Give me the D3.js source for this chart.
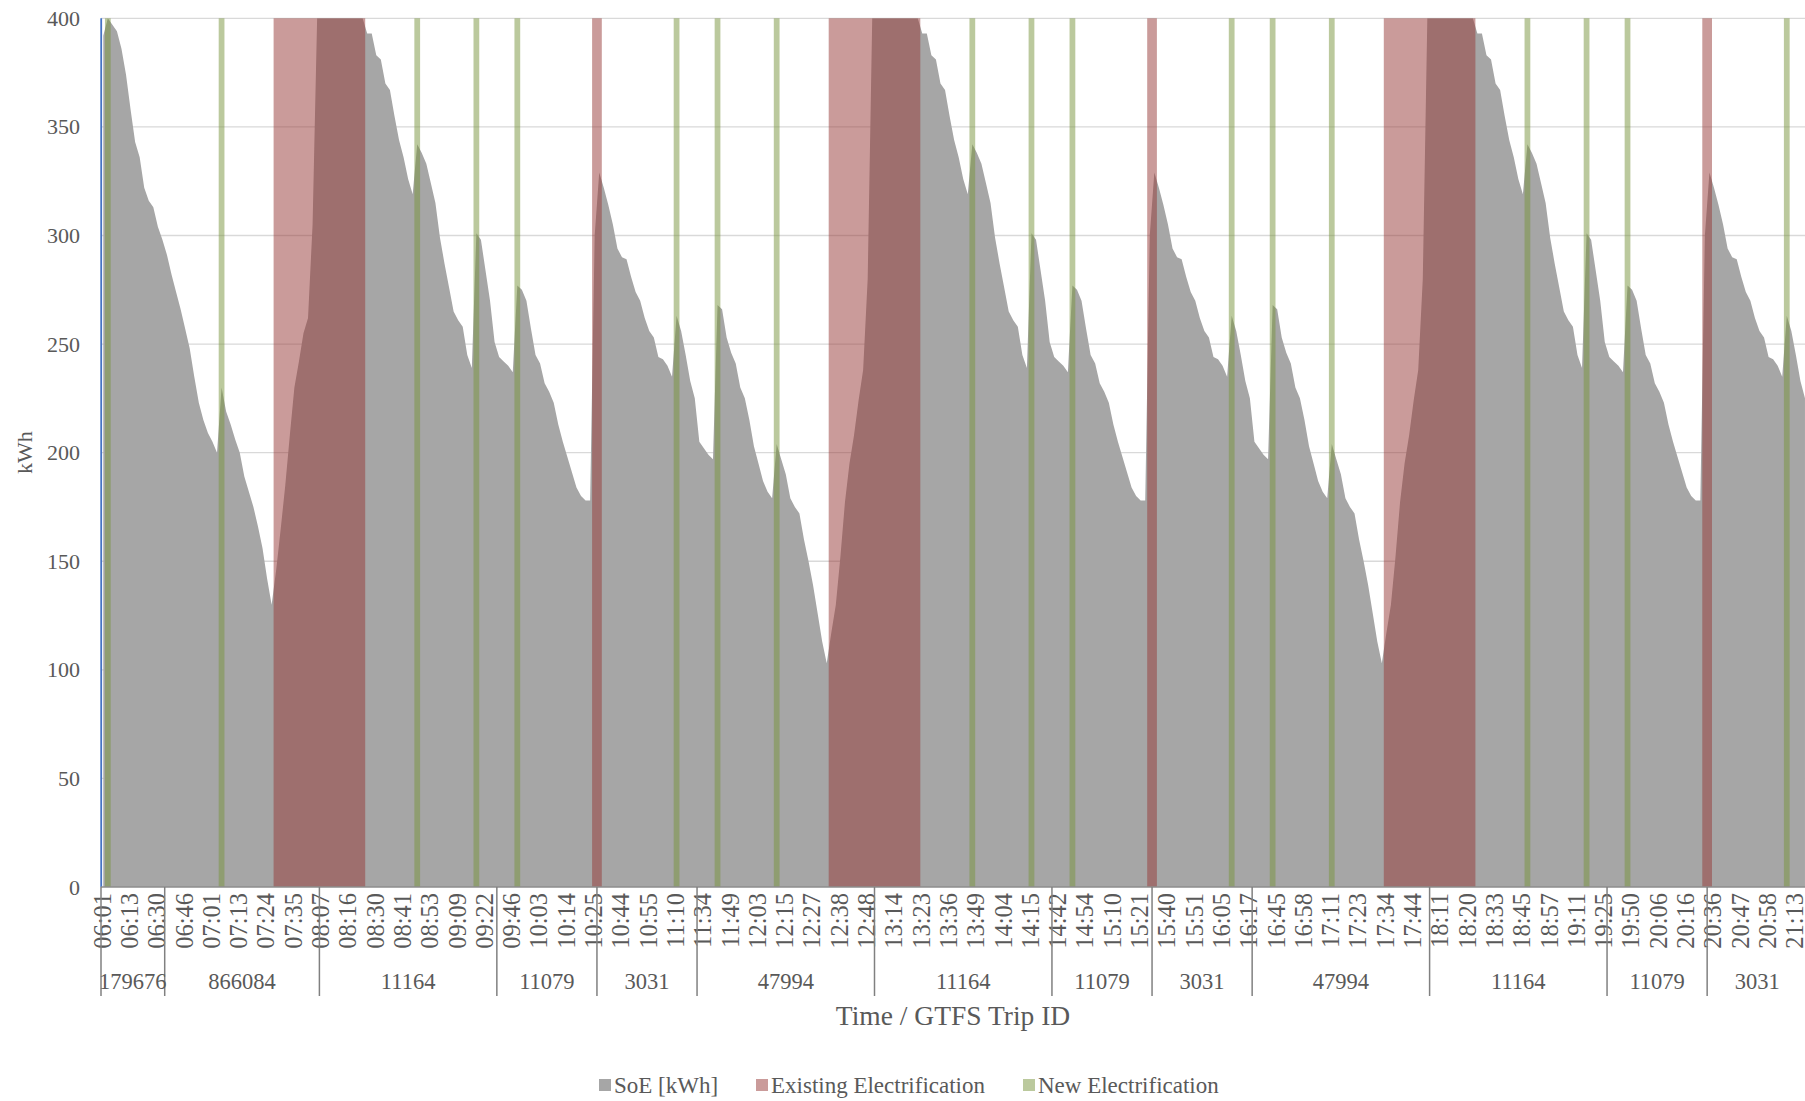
<!DOCTYPE html>
<html>
<head>
<meta charset="utf-8">
<script src="https://cdn.jsdelivr.net/npm/d3@7"></script>
<style>
  html, body { margin: 0; padding: 0; background: #ffffff; }
  svg text { font-family: "Liberation Serif", "DejaVu Serif", serif; fill: #595959; }
</style>
</head>
<body>
<svg id="chart" width="1805" height="1101"></svg>
<script>
// Trip order of the bus block (bottom tier of the category axis)
const tripSequence = ["179676", "866084", "11164", "11079", "3031", "47994",
                      "11164", "11079", "3031", "47994", "11164", "11079", "3031"];

// State of energy [kWh] per stop, one array per GTFS trip
const soe179676 = [392, 400, 397, 394, 386, 374, 358, 343, 336, 322, 316, 313, 304, 298];
const soe866084 = [291, 282, 274, 266, 257, 248, 235, 223, 215, 209, 205, 200, 230, 219, 213, 206, 200,
                   189, 182, 175, 166, 156, 142, 130, 146, 165, 185, 208, 230, 242, 255, 262, 305, 400];
const soe11164  = [400, 400, 400, 400, 400, 400, 400, 400, 400, 400, 393, 393, 383, 381, 370, 367, 355,
                   344, 336, 326, 319, 342, 338, 333, 324, 315, 299, 287, 276, 265, 261, 258, 245, 239,
                   301, 298, 284, 270, 251];
const soe11079  = [244, 242, 240, 237, 277, 275, 270, 257, 245, 241, 232, 228, 223, 213, 205, 198, 191,
                   184, 180, 178, 178, 300];
const soe3031   = [329, 322, 314, 305, 294, 290, 289, 281, 274, 270, 262, 256, 253, 244, 243, 240, 235,
                   263, 256, 245, 233, 225];
const soe47994  = [205, 202, 199, 197, 268, 266, 253, 246, 241, 230, 225, 215, 203, 195, 187, 182, 179,
                   204, 197, 190, 179, 175, 172, 160, 150, 139, 126, 113, 103, 117, 130, 152, 177, 195,
                   208, 224, 238, 280, 400];

// Stops served under an existing overhead line (inclusive index ranges along the block)
const existingElectrification = [[38, 57], [108, 109], [160, 179], [230, 231], [282, 301], [352, 353]];
// Stops with newly proposed charging infrastructure
const newElectrification = [1, 26, 69, 82, 91, 126, 135, 148, 191, 204, 213, 248, 257, 270, 313, 326, 335, 370];

// Departure times shown on the axis (every 6th stop)
const timeTicks = ["06:01","06:13","06:30","06:46","07:01","07:13","07:24","07:35","08:07","08:16",
  "08:30","08:41","08:53","09:09","09:22","09:46","10:03","10:14","10:25","10:44","10:55","11:10",
  "11:34","11:49","12:03","12:15","12:27","12:38","12:48","13:14","13:23","13:36","13:49","14:04",
  "14:15","14:42","14:54","15:10","15:21","15:40","15:51","16:05","16:17","16:45","16:58","17:11",
  "17:23","17:34","17:44","18:11","18:20","18:33","18:45","18:57","19:11","19:25","19:50","20:06",
  "20:16","20:36","20:47","20:58","21:13"];
const tickEvery = 6;
const yTicks = [0, 50, 100, 150, 200, 250, 300, 350, 400];

// ---- assemble the stop-level series ----
const soeByTrip = new Map([
  ["179676", soe179676], ["866084", soe866084], ["11164", soe11164],
  ["11079", soe11079], ["3031", soe3031], ["47994", soe47994]
]);
const soe = [];
const groups = [];
tripSequence.forEach(id => {
  const vals = soeByTrip.get(id);
  groups.push({ id, start: soe.length, end: soe.length + vals.length - 1 });
  vals.forEach(v => soe.push(v));
});
const N = soe.length;

// ---- layout ----
const svg = d3.select("#chart");
const plotLeft = 101, plotTop = 18.3, plotBottom = 887;
const catWidth = 4.55;

const x = d3.scaleBand().domain(d3.range(N))
  .range([plotLeft, plotLeft + N * catWidth]).paddingInner(0).paddingOuter(0);
const y = d3.scaleLinear().domain([0, 400]).range([plotBottom, plotTop]);
const cx = i => x(i) + x.bandwidth() / 2;
const plotRight = plotLeft + N * catWidth;

// gridlines
svg.append("g").selectAll("line").data(yTicks.filter(v => v > 0)).join("line")
  .attr("x1", plotLeft).attr("x2", plotRight)
  .attr("y1", d => y(d)).attr("y2", d => y(d))
  .attr("stroke", "#d9d9d9").attr("stroke-width", 1.3);

// SoE area
const area = d3.area()
  .x((d, i) => cx(i))
  .y0(y(0))
  .y1(d => y(d))
  .curve(d3.curveLinear);
svg.append("path").datum(soe).attr("d", area).attr("fill", "#a6a6a6");

// existing electrification columns
svg.append("g").selectAll("rect").data(existingElectrification).join("rect")
  .attr("x", d => x(d[0]) - 0.3)
  .attr("width", d => x(d[1]) + x.bandwidth() - x(d[0]) + 0.6)
  .attr("y", y(400)).attr("height", y(0) - y(400))
  .attr("fill", "#953735").attr("fill-opacity", 0.5);

// new electrification columns
svg.append("g").selectAll("rect").data(newElectrification).join("rect")
  .attr("x", d => x(d) - 0.6)
  .attr("width", x.bandwidth() + 1.2)
  .attr("y", y(400)).attr("height", y(0) - y(400))
  .attr("fill", "#77933c").attr("fill-opacity", 0.5);

// block start marker
svg.append("line")
  .attr("x1", x(0) + 0.2).attr("x2", x(0) + 0.2)
  .attr("y1", y(400)).attr("y2", y(0))
  .attr("stroke", "#4472c4").attr("stroke-width", 1.8);

// horizontal axis line
svg.append("line")
  .attr("x1", plotLeft).attr("x2", plotRight)
  .attr("y1", y(0)).attr("y2", y(0))
  .attr("stroke", "#8c8c8c").attr("stroke-width", 1.3);

// y axis
const yAxis = svg.append("g").attr("transform", `translate(${plotLeft},0)`)
  .call(d3.axisLeft(y).tickValues(yTicks).tickSize(0).tickPadding(21));
yAxis.select(".domain").remove();
yAxis.selectAll("text")
  .style("font-family", '"Liberation Serif", serif')
  .style("font-size", "22px").attr("fill", "#595959");

// y axis title
svg.append("text")
  .attr("transform", `translate(32,${(plotTop + plotBottom) / 2}) rotate(-90)`)
  .attr("text-anchor", "middle")
  .style("font-size", "22px")
  .text("kWh");

// time tier of the x axis
const timeIdx = d3.range(0, N, tickEvery).filter(i => i / tickEvery < timeTicks.length);
const xAxis = svg.append("g").attr("transform", `translate(0,${plotBottom})`)
  .call(d3.axisBottom(x).tickValues(timeIdx).tickSize(0)
    .tickFormat(i => timeTicks[i / tickEvery]));
xAxis.select(".domain").remove();
xAxis.selectAll("text")
  .attr("transform", "rotate(-90)")
  .attr("x", -6).attr("y", 0).attr("dy", "0.3em")
  .attr("text-anchor", "end")
  .style("font-family", '"Liberation Serif", serif')
  .style("font-size", "24.5px").attr("fill", "#595959");

// trip tier of the x axis: separators and trip IDs
const sepBottom = 996;
const bounds = groups.map(g => x(g.start));
svg.append("g").selectAll("line").data(bounds).join("line")
  .attr("x1", d => d).attr("x2", d => d)
  .attr("y1", plotBottom).attr("y2", sepBottom)
  .attr("stroke", "#808080").attr("stroke-width", 1.5);
svg.append("g").selectAll("text").data(groups).join("text")
  .attr("x", g => (x(g.start) + x(g.end) + x.bandwidth()) / 2)
  .attr("y", 989)
  .attr("text-anchor", "middle")
  .style("font-size", "22.5px")
  .text(g => g.id);

// x axis title
svg.append("text")
  .attr("x", (plotLeft + 1805) / 2).attr("y", 1025)
  .attr("text-anchor", "middle")
  .style("font-size", "27.5px")
  .text("Time / GTFS Trip ID");

// legend
const legendItems = [
  { label: "SoE [kWh]", color: "#a6a6a6", x: 599 },
  { label: "Existing Electrification", color: "#ca9b9a", x: 756 },
  { label: "New Electrification", color: "#bbc99d", x: 1023 }
];
const lg = svg.append("g").selectAll("g").data(legendItems).join("g")
  .attr("transform", d => `translate(${d.x},1079)`);
lg.append("rect").attr("width", 12).attr("height", 12).attr("fill", d => d.color);
lg.append("text").attr("x", 15).attr("y", 13.5)
  .style("font-size", "23px")
  .text(d => d.label);
</script>
</body>
</html>
